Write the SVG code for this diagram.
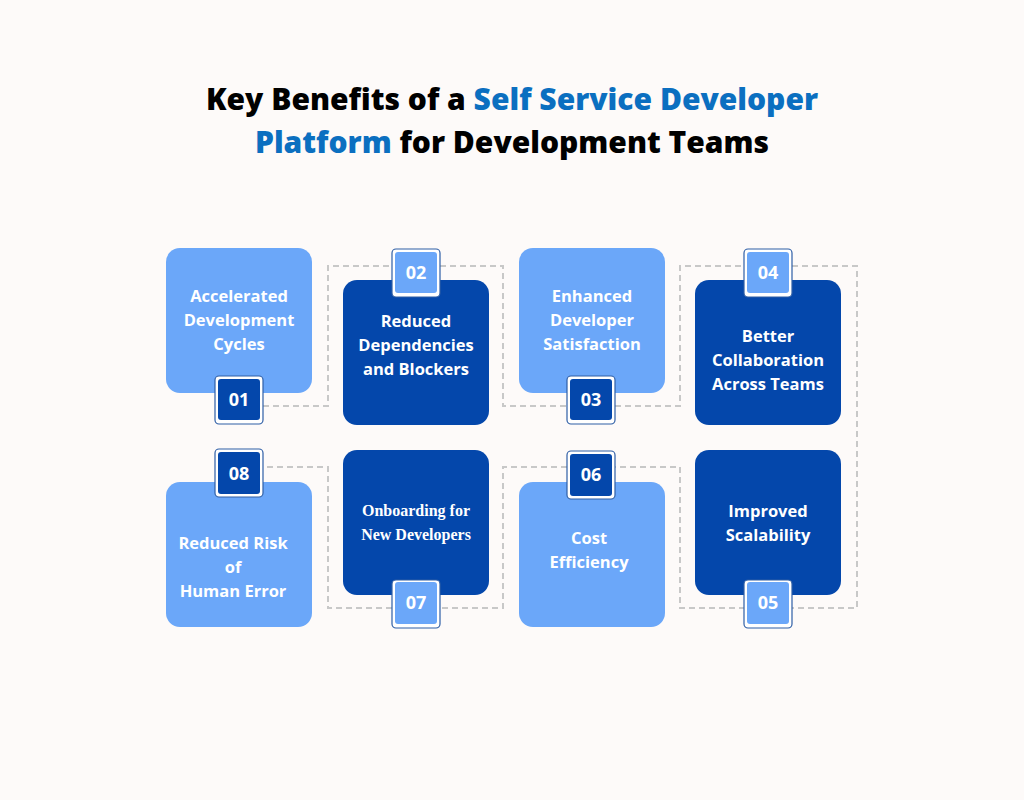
<svg xmlns="http://www.w3.org/2000/svg" width="1024" height="800" viewBox="0 0 1024 800">
<style>
.t{font-family:"Open Sans","Liberation Sans",sans-serif;font-weight:800;font-size:30px;fill:#000}
.b{fill:#0B6FC0}
.l{fill:#6BA7F9}
.d{fill:#0447AB}
.bt{font-family:"Open Sans","Liberation Sans",sans-serif;font-weight:700;font-size:16.5px;fill:#fff;text-anchor:middle}
.sf{font-family:"Liberation Serif",serif;font-size:16px}
.n{font-family:"Open Sans","Liberation Sans",sans-serif;font-weight:700;font-size:18px;fill:#fff;text-anchor:middle}
.o{fill:#fff;stroke:#2E5EA6;stroke-width:1.2}
.c{fill:none;stroke:#C8C8C8;stroke-width:2;stroke-dasharray:6 4}
</style>
<rect width="1024" height="800" fill="#FDFAF9"/>
<text class="t" x="512" y="110" text-anchor="middle">Key Benefits of a <tspan class="b">Self Service Developer</tspan></text>
<text class="t" x="512" y="153" text-anchor="middle"><tspan class="b">Platform</tspan> for Development Teams</text>
<g id="connectors">
<polyline class="c" points="263,406 328,406 328,266 392,266"/>
<polyline class="c" points="440,266 503,266 503,406 567,406"/>
<polyline class="c" points="615,406 680,406 680,266 745,266"/>
<polyline class="c" points="792,266 857,266 857,608 792,608"/>
<polyline class="c" points="745,608 680,608 680,467 615,467"/>
<polyline class="c" points="567,467 503,467 503,608 440,608"/>
<polyline class="c" points="392,608 328,608 328,467 263,467"/>
</g>
<g id="n1"><rect class="l" x="166" y="248" width="146" height="145" rx="14"/>
<text class="bt" x="239" y="302">Accelerated</text><text class="bt" x="239" y="326">Development</text><text class="bt" x="239" y="350">Cycles</text>
<rect class="o" x="215" y="376" width="48" height="48" rx="4"/><rect class="d" x="218" y="379" width="42" height="41" rx="3"/><text class="n" x="239" y="406">01</text></g>
<g id="n2"><rect class="d" x="343" y="280" width="146" height="145" rx="14"/>
<text class="bt" x="416" y="327">Reduced</text><text class="bt" x="416" y="351">Dependencies</text><text class="bt" x="416" y="375">and Blockers</text>
<rect class="o" x="392" y="249" width="48" height="48" rx="4"/><rect class="l" x="395" y="252" width="42" height="41" rx="3"/><text class="n" x="416" y="279">02</text></g>
<g id="n3"><rect class="l" x="519" y="248" width="146" height="145" rx="14"/>
<text class="bt" x="592" y="302">Enhanced</text><text class="bt" x="592" y="326">Developer</text><text class="bt" x="592" y="350">Satisfaction</text>
<rect class="o" x="567" y="376" width="48" height="48" rx="4"/><rect class="d" x="570" y="379" width="42" height="41" rx="3"/><text class="n" x="591" y="406">03</text></g>
<g id="n4"><rect class="d" x="695" y="280" width="146" height="145" rx="14"/>
<text class="bt" x="768" y="342">Better</text><text class="bt" x="768" y="366">Collaboration</text><text class="bt" x="768" y="390">Across Teams</text>
<rect class="o" x="744" y="249" width="48" height="48" rx="4"/><rect class="l" x="747" y="252" width="42" height="41" rx="3"/><text class="n" x="768" y="279">04</text></g>
<g id="n8"><rect class="l" x="166" y="482" width="146" height="145" rx="14"/>
<text class="bt" x="233" y="549">Reduced Risk</text><text class="bt" x="233" y="573">of</text><text class="bt" x="233" y="597">Human Error</text>
<rect class="o" x="215" y="449" width="48" height="48" rx="4"/><rect class="d" x="218" y="452" width="42" height="42" rx="3"/><text class="n" x="239" y="480">08</text></g>
<g id="n7"><rect class="d" x="343" y="450" width="146" height="145" rx="14"/>
<text class="bt sf" x="416" y="516">Onboarding for</text><text class="bt sf" x="416" y="540">New Developers</text>
<rect class="o" x="392" y="580" width="48" height="48" rx="4"/><rect class="l" x="395" y="582" width="42" height="42" rx="3"/><text class="n" x="416" y="609">07</text></g>
<g id="n6"><rect class="l" x="519" y="482" width="146" height="145" rx="14"/>
<text class="bt" x="589" y="544">Cost</text><text class="bt" x="589" y="568">Efficiency</text>
<rect class="o" x="567" y="451" width="48" height="48" rx="4"/><rect class="d" x="570" y="454" width="42" height="42" rx="3"/><text class="n" x="591" y="481">06</text></g>
<g id="n5"><rect class="d" x="695" y="450" width="146" height="145" rx="14"/>
<text class="bt" x="768" y="517">Improved</text><text class="bt" x="768" y="541">Scalability</text>
<rect class="o" x="744" y="580" width="48" height="48" rx="4"/><rect class="l" x="747" y="582" width="42" height="42" rx="3"/><text class="n" x="768" y="609">05</text></g>
</svg>
